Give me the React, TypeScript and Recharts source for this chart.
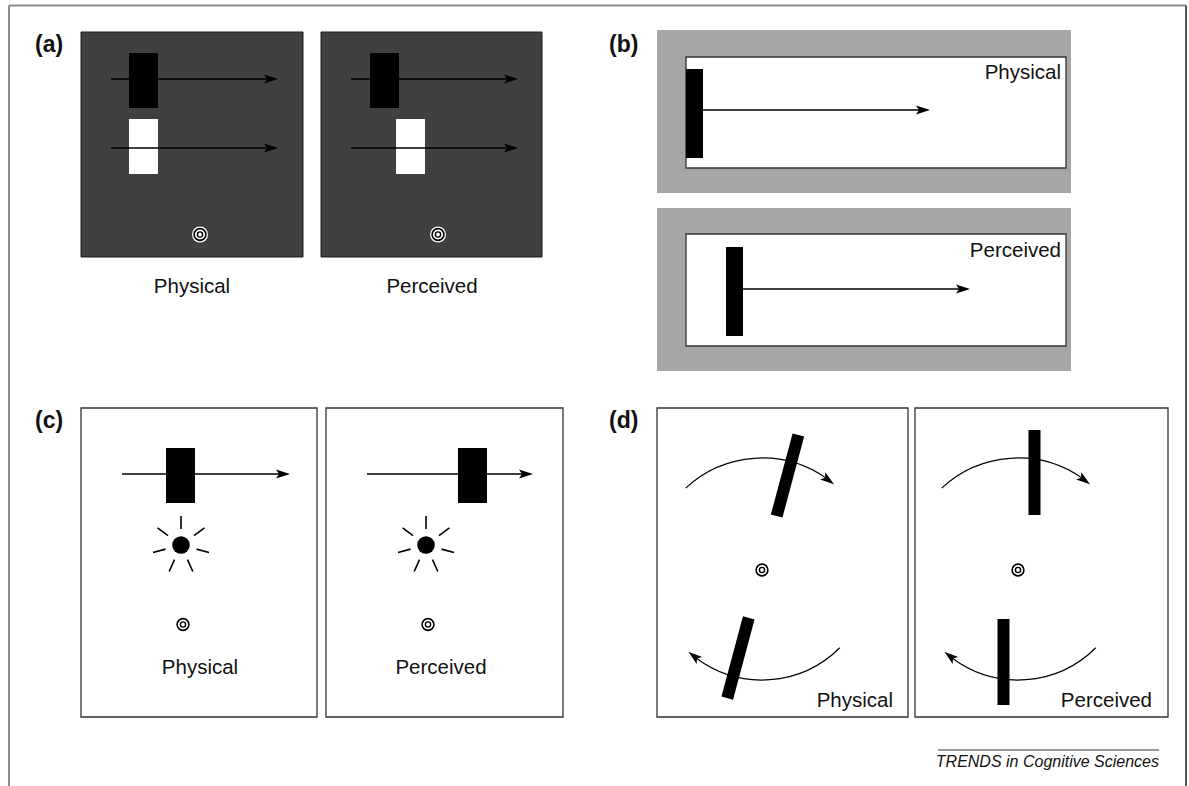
import React from 'react';
import { ComposedChart, XAxis, YAxis, ReferenceArea, ReferenceLine, Scatter } from 'recharts';

const chartWidth = 1189;
const chartHeight = 786;
const font = '"Liberation Sans", Arial, Helvetica, sans-serif';

// outer frame and the rule above the credit line
const frameGrey = [
  { x1: 9, y1: 5.5, x2: 1186, y2: 5.5 },
  { x1: 9, y1: 5.5, x2: 9, y2: 786 },
];
const frameDark = [{ x1: 1186, y1: 5.5, x2: 1186, y2: 786 }];
const creditRule = [{ x1: 938, y1: 750, x2: 1159, y2: 750 }];

// panel grounds and boxes
const darkGrounds = [
  { x1: 81, x2: 303, y1: 32, y2: 257 },
  { x1: 321, x2: 542, y1: 32, y2: 257 },
];
const greyGrounds = [
  { x1: 657, x2: 1071, y1: 30, y2: 193 },
  { x1: 657, x2: 1071, y1: 208, y2: 371 },
];
const whiteBoxes = [
  { x1: 686, x2: 1066, y1: 57, y2: 168 },
  { x1: 686, x2: 1066, y1: 234, y2: 346 },
  { x1: 81, x2: 317, y1: 408, y2: 717 },
  { x1: 326, x2: 563, y1: 408, y2: 717 },
  { x1: 657, x2: 908, y1: 408, y2: 717 },
  { x1: 915, x2: 1168, y1: 408, y2: 717 },
];

// upright stimulus bars
const blackBars = [
  { x1: 129, x2: 158, y1: 53, y2: 108 },
  { x1: 370, x2: 399, y1: 53, y2: 108 },
  { x1: 686, x2: 703, y1: 69, y2: 158 },
  { x1: 726, x2: 743, y1: 247, y2: 336 },
  { x1: 166, x2: 195, y1: 448, y2: 503 },
  { x1: 458, x2: 487, y1: 448, y2: 503 },
];
const whiteBars = [
  { x1: 129, x2: 158, y1: 119, y2: 174 },
  { x1: 396, x2: 425, y1: 119, y2: 174 },
];

// motion arrows
const arrows = [
  { x1: 111, y1: 79, x2: 278, y2: 79 },
  { x1: 111, y1: 148, x2: 278, y2: 148 },
  { x1: 351, y1: 79, x2: 518, y2: 79 },
  { x1: 351, y1: 148, x2: 518, y2: 148 },
  { x1: 703, y1: 110, x2: 930, y2: 110 },
  { x1: 743, y1: 289, x2: 970, y2: 289 },
  { x1: 122, y1: 474, x2: 290, y2: 474 },
  { x1: 367, y1: 474, x2: 533, y2: 474 },
];

// rotation arcs (angles in degrees, clockwise from up)
const arcs = [
  { x: 762, y: 570, r: 112, from: -43, to: 40 },
  { x: 762, y: 570, r: 110, from: 135, to: 222 },
  { x: 1018, y: 570, r: 112, from: -43, to: 40 },
  { x: 1018, y: 570, r: 110, from: 135, to: 222 },
];

const tiltedBars = [
  { x: 787.5, y: 475.5, len: 84, angle: 15 },
  { x: 738, y: 658, len: 83, angle: 15 },
  { x: 1034.5, y: 472.5, len: 85, angle: 0 },
  { x: 1003.5, y: 662, len: 86, angle: 0 },
];

const fixationsOnDark = [
  { x: 200, y: 234.5 },
  { x: 438, y: 234.5 },
];
const fixationsOnWhite = [
  { x: 183, y: 624.5 },
  { x: 428, y: 624.5 },
  { x: 762, y: 570 },
  { x: 1018, y: 570 },
];

const flashes = [
  { x: 181, y: 545 },
  { x: 426, y: 545 },
];
const flashRays = [0, 54, 105, 156, 204, 255, 306];

const panelLetters = [
  { x: 35, y: 52, text: '(a)' },
  { x: 609, y: 52, text: '(b)' },
  { x: 35, y: 428, text: '(c)' },
  { x: 609, y: 428, text: '(d)' },
];
const captionsCentred = [
  { x: 192, y: 293, text: 'Physical' },
  { x: 432, y: 293, text: 'Perceived' },
  { x: 200, y: 674, text: 'Physical' },
  { x: 441, y: 674, text: 'Perceived' },
];
const captionsRight = [
  { x: 1061, y: 79, text: 'Physical' },
  { x: 1061, y: 257, text: 'Perceived' },
  { x: 893, y: 707, text: 'Physical' },
  { x: 1152, y: 707, text: 'Perceived' },
];
const credit = [{ x: 1159, y: 767, text: 'TRENDS in Cognitive Sciences' }];

const rad = (d: number) => (d * Math.PI) / 180;

function headPoints(x: number, y: number, ux: number, uy: number) {
  const L = 14;
  const hw = 4.4;
  const notch = 3;
  const bx = x - ux * L;
  const by = y - uy * L;
  const nx = -uy;
  const ny = ux;
  return `${x},${y} ${bx + nx * hw},${by + ny * hw} ${x - ux * (L - notch)},${y - uy * (L - notch)} ${bx - nx * hw},${by - ny * hw}`;
}

function ArrowLine(props: any) {
  const { x1, y1, x2, y2 } = props;
  const len = Math.hypot(x2 - x1, y2 - y1) || 1;
  const ux = (x2 - x1) / len;
  const uy = (y2 - y1) / len;
  return (
    <g>
      <line x1={x1} y1={y1} x2={x2 - ux * 10} y2={y2 - uy * 10} stroke="#000" strokeWidth={1.3} />
      <polygon points={headPoints(x2, y2, ux, uy)} fill="#000" />
    </g>
  );
}

function ArcArrow(props: any) {
  const { cx, cy, payload } = props;
  const { r, from, to } = payload;
  const pt = (a: number) => [cx + r * Math.sin(rad(a)), cy - r * Math.cos(rad(a))];
  const [sx, sy] = pt(from);
  const [ex, ey] = pt(to);
  const [bx, by] = pt(to - (14 / r) * (180 / Math.PI));
  const [lx, ly] = pt(to - (10 / r) * (180 / Math.PI));
  const len = Math.hypot(ex - bx, ey - by) || 1;
  const ux = (ex - bx) / len;
  const uy = (ey - by) / len;
  return (
    <g>
      <path d={`M${sx},${sy} A${r},${r} 0 0 1 ${lx},${ly}`} fill="none" stroke="#000" strokeWidth={1.2} />
      <polygon points={headPoints(ex, ey, ux, uy)} fill="#000" />
    </g>
  );
}

function TiltedBar(props: any) {
  const { cx, cy, payload } = props;
  const w = 12;
  return (
    <rect
      x={cx - w / 2}
      y={cy - payload.len / 2}
      width={w}
      height={payload.len}
      fill="#000"
      transform={`rotate(${payload.angle} ${cx} ${cy})`}
    />
  );
}

function Fixation(props: any) {
  const { cx, cy, halo } = props;
  return (
    <g>
      {halo && <circle cx={cx} cy={cy} r={8} fill="#fff" />}
      <circle cx={cx} cy={cy} r={5.9} fill="#fff" stroke="#000" strokeWidth={1.6} />
      <circle cx={cx} cy={cy} r={2.6} fill="#fff" stroke="#000" strokeWidth={1.4} />
    </g>
  );
}

function Flash(props: any) {
  const { cx, cy } = props;
  return (
    <g>
      <circle cx={cx} cy={cy} r={8.8} fill="#000" />
      {flashRays.map((a) => (
        <line
          key={a}
          x1={cx + 16 * Math.sin(rad(a))}
          y1={cy - 16 * Math.cos(rad(a))}
          x2={cx + 29 * Math.sin(rad(a))}
          y2={cy - 29 * Math.cos(rad(a))}
          stroke="#000"
          strokeWidth={1.6}
        />
      ))}
    </g>
  );
}

function makeText(anchor: 'start' | 'middle' | 'end', size: number, weight: number, style: string) {
  return (props: any) => (
    <text
      x={props.cx}
      y={props.cy}
      textAnchor={anchor}
      fontFamily={font}
      fontSize={size}
      fontWeight={weight}
      fontStyle={style}
      fill="#111"
    >
      {props.payload.text}
    </text>
  );
}

export default function App() {
  return (
    <div style={{ position: 'absolute', left: 0, top: 0, background: '#fff' }}>
      <ComposedChart width={chartWidth} height={chartHeight} margin={{ top: 0, right: 0, bottom: 0, left: 0 }}>
        <XAxis type="number" dataKey="x" domain={[0, chartWidth]} hide allowDataOverflow />
        <YAxis type="number" dataKey="y" domain={[0, chartHeight]} reversed hide allowDataOverflow />

        {frameGrey.map((s, i) => (
          <ReferenceLine key={`fg${i}`} segment={[{ x: s.x1, y: s.y1 }, { x: s.x2, y: s.y2 }]} stroke="#8c8c8c" strokeWidth={2} ifOverflow="visible" />
        ))}
        {frameDark.map((s, i) => (
          <ReferenceLine key={`fd${i}`} segment={[{ x: s.x1, y: s.y1 }, { x: s.x2, y: s.y2 }]} stroke="#555" strokeWidth={2} ifOverflow="visible" />
        ))}
        {creditRule.map((s, i) => (
          <ReferenceLine key={`cr${i}`} segment={[{ x: s.x1, y: s.y1 }, { x: s.x2, y: s.y2 }]} stroke="#777" strokeWidth={1.5} />
        ))}

        {darkGrounds.map((r, i) => (
          <ReferenceArea key={`dg${i}`} {...r} fill="#404040" fillOpacity={1} stroke="#1a1a1a" strokeWidth={1} />
        ))}
        {greyGrounds.map((r, i) => (
          <ReferenceArea key={`gg${i}`} {...r} fill="#a6a6a6" fillOpacity={1} />
        ))}
        {whiteBoxes.map((r, i) => (
          <ReferenceArea key={`wb${i}`} {...r} fill="#fff" fillOpacity={1} stroke="#333" strokeWidth={1.3} />
        ))}
        {blackBars.map((r, i) => (
          <ReferenceArea key={`bb${i}`} {...r} fill="#000" fillOpacity={1} />
        ))}
        {whiteBars.map((r, i) => (
          <ReferenceArea key={`wr${i}`} {...r} fill="#fff" fillOpacity={1} />
        ))}

        {arrows.map((s, i) => (
          <ReferenceLine key={`ar${i}`} segment={[{ x: s.x1, y: s.y1 }, { x: s.x2, y: s.y2 }]} shape={ArrowLine} />
        ))}

        <Scatter data={tiltedBars} shape={TiltedBar} isAnimationActive={false} />
        <Scatter data={arcs} shape={ArcArrow} isAnimationActive={false} />
        <Scatter data={flashes} shape={Flash} isAnimationActive={false} />
        <Scatter data={fixationsOnDark} shape={(p: any) => <Fixation {...p} halo />} isAnimationActive={false} />
        <Scatter data={fixationsOnWhite} shape={(p: any) => <Fixation {...p} />} isAnimationActive={false} />

        <Scatter data={panelLetters} shape={makeText('start', 23, 700, 'normal')} isAnimationActive={false} />
        <Scatter data={captionsCentred} shape={makeText('middle', 20.5, 400, 'normal')} isAnimationActive={false} />
        <Scatter data={captionsRight} shape={makeText('end', 20.5, 400, 'normal')} isAnimationActive={false} />
        <Scatter data={credit} shape={makeText('end', 16, 400, 'italic')} isAnimationActive={false} />
      </ComposedChart>
    </div>
  );
}
